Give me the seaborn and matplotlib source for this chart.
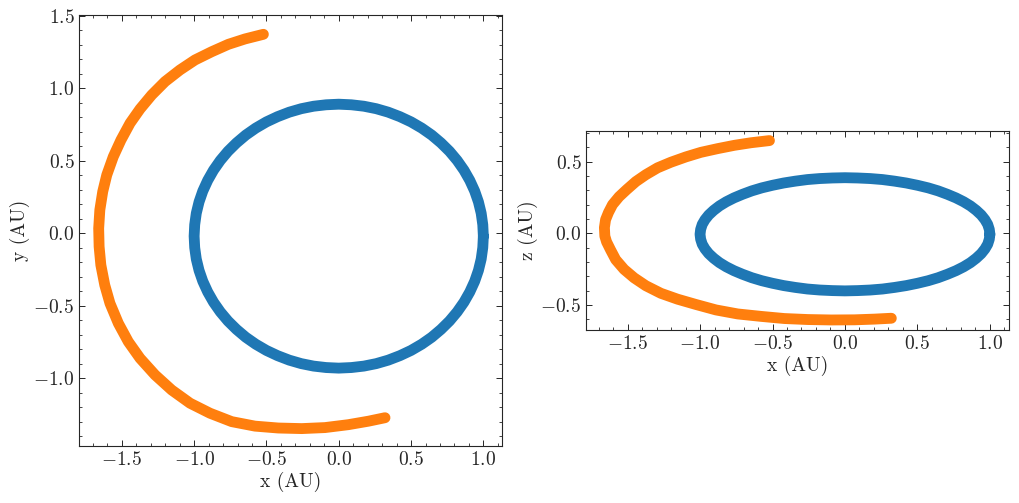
import numpy as np
import pandas as pd
import matplotlib
matplotlib.use("Agg")
import matplotlib.pyplot as plt
from matplotlib.ticker import MultipleLocator
import seaborn as sns

# ---- data (AU) ----
earth_x = [1.000, 0.996, 0.985, 0.966, 0.940, 0.906, 0.866, 0.819, 0.766, 0.707,
           0.643, 0.574, 0.500, 0.423, 0.342, 0.259, 0.174, 0.087, 0.000,
           -0.087, -0.174, -0.259, -0.342, -0.423, -0.500, -0.574, -0.643, -0.707,
           -0.766, -0.819, -0.866, -0.906, -0.940, -0.966, -0.985, -0.996, -1.000,
           -0.996, -0.985, -0.966, -0.940, -0.906, -0.866, -0.819, -0.766, -0.707,
           -0.643, -0.574, -0.500, -0.423, -0.342, -0.259, -0.174, -0.087, 0.000,
           0.087, 0.174, 0.259, 0.342, 0.423, 0.500, 0.574, 0.643, 0.707,
           0.766, 0.819, 0.866, 0.906, 0.940, 0.966, 0.985, 0.996, 1.000]
earth_y = [-0.020, 0.059, 0.138, 0.216, 0.291, 0.365, 0.435, 0.502, 0.565, 0.623,
           0.677, 0.725, 0.768, 0.804, 0.835, 0.859, 0.876, 0.886, 0.890,
           0.886, 0.876, 0.859, 0.835, 0.804, 0.768, 0.725, 0.677, 0.623,
           0.565, 0.502, 0.435, 0.365, 0.291, 0.216, 0.138, 0.059, -0.020,
           -0.099, -0.178, -0.256, -0.331, -0.405, -0.475, -0.542, -0.605, -0.663,
           -0.717, -0.765, -0.808, -0.844, -0.875, -0.899, -0.916, -0.926, -0.930,
           -0.926, -0.916, -0.899, -0.875, -0.844, -0.808, -0.765, -0.717, -0.663,
           -0.605, -0.542, -0.475, -0.405, -0.331, -0.256, -0.178, -0.099, -0.020]
earth_z = [-0.007, 0.027, 0.062, 0.095, 0.128, 0.160, 0.191, 0.220, 0.247, 0.272,
           0.296, 0.317, 0.335, 0.351, 0.364, 0.375, 0.382, 0.386, 0.388,
           0.386, 0.382, 0.375, 0.364, 0.351, 0.335, 0.317, 0.296, 0.272,
           0.247, 0.220, 0.191, 0.160, 0.128, 0.095, 0.062, 0.027, -0.007,
           -0.041, -0.076, -0.109, -0.142, -0.174, -0.205, -0.234, -0.261, -0.286,
           -0.310, -0.331, -0.349, -0.365, -0.378, -0.389, -0.396, -0.400, -0.402,
           -0.400, -0.396, -0.389, -0.378, -0.365, -0.349, -0.331, -0.310, -0.286,
           -0.261, -0.234, -0.205, -0.174, -0.142, -0.109, -0.076, -0.041, -0.007]

body_x = [-0.521, -0.648, -0.763, -0.878, -0.994, -1.098, -1.201, -1.293, -1.374,
          -1.443, -1.506, -1.559, -1.604, -1.632, -1.652, -1.660, -1.657, -1.645,
          -1.618, -1.582, -1.524, -1.455, -1.374, -1.270, -1.155, -1.028, -0.890,
          -0.740, -0.579, -0.418, -0.256, -0.095, 0.066, 0.205, 0.320]
body_y = [1.372, 1.340, 1.303, 1.252, 1.195, 1.126, 1.046, 0.954, 0.857,
          0.759, 0.643, 0.528, 0.402, 0.287, 0.161, 0.034, -0.092, -0.219,
          -0.357, -0.483, -0.621, -0.748, -0.862, -0.977, -1.081, -1.172, -1.241,
          -1.299, -1.330, -1.343, -1.347, -1.340, -1.320, -1.296, -1.272]
body_z = [0.647, 0.632, 0.614, 0.591, 0.565, 0.533, 0.496, 0.457, 0.409,
          0.361, 0.305, 0.255, 0.200, 0.145, 0.095, 0.040, -0.020, -0.060,
          -0.115, -0.184, -0.252, -0.311, -0.366, -0.419, -0.460, -0.497, -0.535,
          -0.563, -0.580, -0.595, -0.602, -0.605, -0.604, -0.599, -0.593]

x_label = "x (AU)"
y_label = "y (AU)"
z_label = "z (AU)"

# ---- style ----
sns.set_style("ticks")
plt.rcParams.update({
    "font.family": ["cmr10", "DejaVu Serif"],
    "mathtext.fontset": "cm",
    "axes.formatter.use_mathtext": True,
    "font.size": 14,
    "axes.linewidth": 0.8,
    "xtick.direction": "in",
    "ytick.direction": "in",
    "xtick.top": True,
    "ytick.right": True,
    "xtick.major.size": 4,
    "ytick.major.size": 4,
    "xtick.minor.size": 2,
    "ytick.minor.size": 2,
    "xtick.major.width": 0.7,
    "ytick.major.width": 0.7,
    "xtick.minor.width": 0.6,
    "ytick.minor.width": 0.6,
    "xtick.labelsize": 14,
    "ytick.labelsize": 14,
    "axes.labelsize": 14,
})

blue = "#1f77b4"
orange = "#ff7f0e"
lw = 7.8

fig = plt.figure(figsize=(10.19, 5.03), dpi=100)
ax1 = fig.add_axes([79.3 / 1019, (503 - 446) / 503, (502.3 - 79.3) / 1019, (446 - 15.3) / 503])
ax2 = fig.add_axes([586.3 / 1019, (503 - 330) / 503, (1009.3 - 586.3) / 1019, (330 - 130.7) / 503])

df_e = pd.DataFrame({"x": earth_x, "y": earth_y, "z": earth_z})
df_b = pd.DataFrame({"x": body_x, "y": body_y, "z": body_z})

line_kw = dict(sort=False, estimator=None, linewidth=lw,
               solid_capstyle="round", solid_joinstyle="round", legend=False)

sns.lineplot(data=df_e, x="x", y="y", ax=ax1, color=blue, **line_kw)
sns.lineplot(data=df_b, x="x", y="y", ax=ax1, color=orange, **line_kw)
sns.lineplot(data=df_e, x="x", y="z", ax=ax2, color=blue, **line_kw)
sns.lineplot(data=df_b, x="x", y="z", ax=ax2, color=orange, **line_kw)

ax1.set_xlim(-1.794, 1.131)
ax1.set_ylim(-1.467, 1.503)
ax2.set_xlim(-1.785, 1.134)
ax2.set_ylim(-0.675, 0.716)

for ax in (ax1, ax2):
    ax.xaxis.set_major_locator(MultipleLocator(0.5))
    ax.xaxis.set_minor_locator(MultipleLocator(0.1))
    ax.yaxis.set_major_locator(MultipleLocator(0.5))
    ax.yaxis.set_minor_locator(MultipleLocator(0.1))
    ax.tick_params(which="both", direction="in", top=True, right=True)
    ax.set_xlabel(x_label, labelpad=2)
ax1.set_ylabel(y_label, labelpad=2)
ax2.set_ylabel(z_label, labelpad=2)

fig.savefig("out.png", dpi=100)
